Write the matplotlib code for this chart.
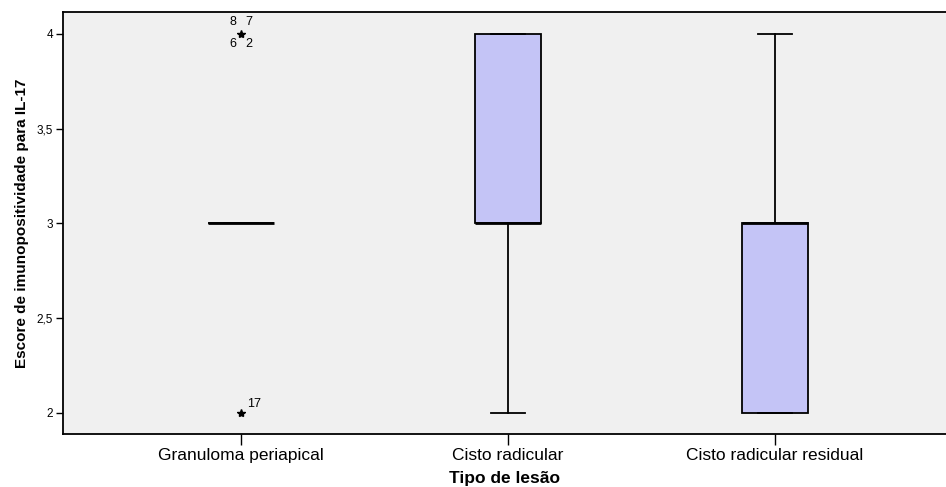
import matplotlib.pyplot as plt

plt.rcParams["font.family"] = ["Liberation Sans", "DejaVu Sans"]

categories = ["Granuloma periapical", "Cisto radicular", "Cisto radicular residual"]
q1 = [3, 3, 2]
medians = [3, 3, 3]
q3 = [3, 4, 3]
whis_lo = [3, 2, 2]
whis_hi = [3, 4, 4]
# extreme cases (SPSS stars) with case numbers
extremes = [(0, 4, ["8", "7", "6", "2"]), (0, 2, ["17"])]

stats = [
    {"label": c, "q1": a, "med": m, "q3": b, "whislo": lo, "whishi": hi, "fliers": []}
    for c, a, m, b, lo, hi in zip(categories, q1, medians, q3, whis_lo, whis_hi)
]

fig = plt.figure(figsize=(9.46, 4.87), dpi=100)
ax = fig.add_axes([0.0666, 0.1088, 0.9334, 0.8666])
ax.set_facecolor("#f0f0f0")

ax.bxp(
    stats, positions=range(len(categories)), widths=0.25, patch_artist=True,
    showfliers=False,
    boxprops={"facecolor": "#c4c4f6", "edgecolor": "black", "linewidth": 1.3},
    medianprops={"color": "black", "linewidth": 2},
    whiskerprops={"color": "black", "linewidth": 1.3},
    capprops={"color": "black", "linewidth": 1.3},
    capwidths=0.125,
)

for pos, val, ids in extremes:
    ax.plot(pos, val, marker="*", color="black", markersize=6, linestyle="none")
    if len(ids) == 4:
        ax.text(pos - 0.03, val + 0.063, ids[0], ha="center", va="center", fontsize=9)
        ax.text(pos + 0.03, val + 0.063, ids[1], ha="center", va="center", fontsize=9)
        ax.text(pos - 0.03, val - 0.053, ids[2], ha="center", va="center", fontsize=9)
        ax.text(pos + 0.03, val - 0.053, ids[3], ha="center", va="center", fontsize=9)
    else:
        ax.text(pos + 0.022, val + 0.047, ids[0], ha="left", va="center", fontsize=9)

ax.set_xlim(-0.667, 2.64)
ax.set_ylim(1.889, 4.116)
ax.set_xticks(range(len(categories)), categories, fontsize=12.5)
ax.set_yticks([2, 2.5, 3, 3.5, 4], ["2", "2,5", "3", "3,5", "4"], fontsize=8.5)
ax.tick_params(axis="x", length=8, width=1, pad=2)
ax.tick_params(axis="y", length=5, width=1, pad=2)
ax.spines["right"].set_visible(False)
for s in ("left", "bottom", "top"):
    ax.spines[s].set_linewidth(1.3)

ax.set_xlabel("Tipo de lesão", fontsize=12.5, fontweight="bold", labelpad=6)
ax.set_ylabel("Escore de imunopositividade para IL-17", fontsize=11, fontweight="bold", labelpad=6)

fig.savefig("out.png", dpi=100)
